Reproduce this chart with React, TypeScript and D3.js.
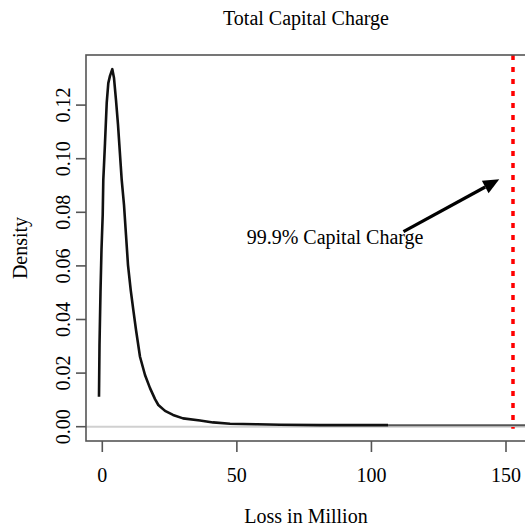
import React from "react";
import * as d3 from "d3";

const lossX = [-1.23, -1.04, -0.67, -0.3, 0.15, 0.37, 0.63, 1.0, 1.64, 2.23, 2.86, 3.72, 4.35, 5.09, 5.84, 6.84, 7.21, 8.07, 8.81, 9.55, 10.56, 11.52, 12.53, 14.01, 15.87, 17.73, 19.59, 20.82, 23.31, 26.28, 30.0, 36.32, 41.15, 47.47, 57.5, 66.06, 80.93, 106.2];
const densityY = [0.0112, 0.0305, 0.0503, 0.066, 0.079, 0.0921, 0.0976, 0.1058, 0.1208, 0.1282, 0.1309, 0.1334, 0.1301, 0.1219, 0.1126, 0.0976, 0.0921, 0.0827, 0.0715, 0.0603, 0.051, 0.0436, 0.0361, 0.0261, 0.0193, 0.0144, 0.0103, 0.0081, 0.0059, 0.0044, 0.0031, 0.0023, 0.0016, 0.0011, 0.0009, 0.0007, 0.0006, 0.0006];
const tailX = [106.2, 165];
const tailY = [0.0005, 0.0005];
const xTicks = [0, 50, 100, 150];
const yTicks = [0, 0.02, 0.04, 0.06, 0.08, 0.1, 0.12];
const yTickLabels = ["0.00", "0.02", "0.04", "0.06", "0.08", "0.10", "0.12"];
const capitalCharge = 152.6;
const annotation = { label: "99.9% Capital Charge", x: 86.5, y: 0.07 };
const arrowFrom = [111.9, 0.0728];
const arrowTo = [147.5, 0.0923];

export default function App() {
  const x = d3.scaleLinear().domain([0, 150]).range([102.3, 506]);
  const y = d3.scaleLinear().domain([0, 0.12]).range([426.7, 105.1]);
  const boxL = 86, boxT = 55, boxB = 441, boxR = 528;
  const font = "'Liberation Serif', 'Times New Roman', serif";

  const line = d3.line<number>().x((_, i) => x(lossX[i])).y((d) => y(d));
  const tail = d3.line<number>().x((_, i) => x(tailX[i])).y((d) => y(d));

  const ax0 = x(arrowFrom[0]), ay0 = y(arrowFrom[1]);
  const ax1 = x(arrowTo[0]), ay1 = y(arrowTo[1]);
  const ang = Math.atan2(ay1 - ay0, ax1 - ax0);
  const headLen = 16, headW = 7;
  const bx = ax1 - headLen * Math.cos(ang), by = ay1 - headLen * Math.sin(ang);
  const head = [
    [ax1, ay1],
    [bx + headW * Math.sin(ang), by - headW * Math.cos(ang)],
    [bx - headW * Math.sin(ang), by + headW * Math.cos(ang)],
  ];

  return (
    <svg width={525} height={529} style={{ position: "absolute", left: 0, top: 0, background: "#fff" }} fontFamily={font}>
      <text x={306} y={24.5} fontSize={20} textAnchor="middle">Total Capital Charge</text>
      {/* zero line */}
      <line x1={boxL} x2={boxR} y1={y(0)} y2={y(0)} stroke="#d0d0d0" strokeWidth={2} />
      {/* tail */}
      <path d={tail(tailY) || ""} fill="none" stroke="#555" strokeWidth={2} />
      {/* curve */}
      <path d={line(densityY) || ""} fill="none" stroke="#111" strokeWidth={2.6} strokeLinejoin="round" />
      {/* red dotted line */}
      <line x1={x(capitalCharge)} x2={x(capitalCharge)} y1={boxT} y2={y(0) + 2} stroke="#ff0000" strokeWidth={3.5} strokeDasharray="5 7" />
      {/* box */}
      <rect x={boxL} y={boxT} width={boxR - boxL} height={boxB - boxT} fill="none" stroke="#555" strokeWidth={1.6} />
      {/* x ticks */}
      {xTicks.map((t) => (
        <g key={t}>
          <line x1={x(t)} x2={x(t)} y1={boxB} y2={boxB + 11} stroke="#555" strokeWidth={1.6} />
          <text x={x(t)} y={482} fontSize={20} textAnchor="middle">{t}</text>
        </g>
      ))}
      {/* y ticks */}
      {yTicks.map((t, i) => (
        <g key={t}>
          <line x1={boxL - 10} x2={boxL} y1={y(t)} y2={y(t)} stroke="#555" strokeWidth={1.6} />
          <text transform={`translate(70,${y(t)}) rotate(-90)`} fontSize={20} textAnchor="middle">{yTickLabels[i]}</text>
        </g>
      ))}
      <text x={306} y={523.3} fontSize={20} textAnchor="middle">Loss in Million</text>
      <text transform={`translate(27,248) rotate(-90)`} fontSize={20} textAnchor="middle">Density</text>
      {/* annotation */}
      <text x={x(annotation.x)} y={y(annotation.y) + 5} fontSize={20} textAnchor="middle">{annotation.label}</text>
      <line x1={ax0} y1={ay0} x2={bx} y2={by} stroke="#000" strokeWidth={3.2} />
      <polygon points={head.map((p) => p.join(",")).join(" ")} fill="#000" />
    </svg>
  );
}
